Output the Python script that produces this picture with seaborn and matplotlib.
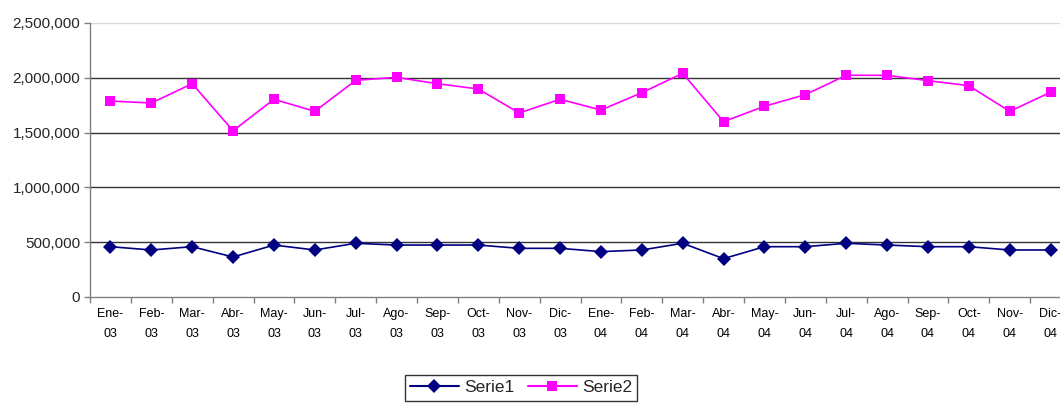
import matplotlib
matplotlib.use("Agg")
import matplotlib.pyplot as plt
import seaborn as sns
import pandas as pd
import numpy as np
from matplotlib.ticker import FuncFormatter, FixedLocator
from matplotlib.lines import Line2D

months = ["Ene-\n03", "Feb-\n03", "Mar-\n03", "Abr-\n03", "May-\n03", "Jun-\n03",
          "Jul-\n03", "Ago-\n03", "Sep-\n03", "Oct-\n03", "Nov-\n03", "Dic-\n03",
          "Ene-\n04", "Feb-\n04", "Mar-\n04", "Abr-\n04", "May-\n04", "Jun-\n04",
          "Jul-\n04", "Ago-\n04", "Sep-\n04", "Oct-\n04", "Nov-\n04", "Dic-\n04"]

serie1 = [459000, 429000, 459000, 365000, 474000, 429000, 490000, 474000,
          474000, 474000, 444000, 444000, 414000, 429000, 490000, 350000,
          459000, 459000, 490000, 474000, 459000, 459000, 429000, 429000]

serie2 = [1788000, 1770000, 1946000, 1517000, 1804000, 1694000, 1977000, 2004000,
          1946000, 1898000, 1679000, 1804000, 1706000, 1864000, 2041000, 1600000,
          1740000, 1846000, 2023000, 2023000, 1974000, 1928000, 1694000, 1868000]

series_names = ["Serie1", "Serie2"]
colors = ["#000080", "#FF00FF"]
markers = ["D", "s"]

sns.set_theme(style="white")
plt.rcParams['font.family'] = ['Liberation Sans', 'DejaVu Sans']

df = pd.DataFrame({
    "pos": list(range(len(months))) * 2,
    "value": serie1 + serie2,
    "serie": ["Serie1"] * len(serie1) + ["Serie2"] * len(serie2),
})

fig = plt.figure(figsize=(10.6, 4.03), dpi=100)
W, H = 1060, 403
ax = fig.add_axes([90 / W, 1 - 297 / H, (1071 - 90) / W, (297 - 23) / H])

sns.lineplot(data=df, x="pos", y="value", hue="serie", style="serie",
             palette=dict(zip(series_names, colors)),
             markers=dict(zip(series_names, markers)), dashes=False,
             markersize=7.5, linewidth=1.2, markeredgewidth=0,
             legend=False, ax=ax, zorder=3)

ax.set_xlim(-0.5, len(months) - 0.5)
ax.set_ylim(0, 2500000)
ax.set_xlabel("")
ax.set_ylabel("")

# gridlines
for yv in [500000, 1000000, 1500000, 2000000]:
    ax.axhline(yv, color="#333333", linewidth=1.0, zorder=1)
ax.axhline(2500000, color="#d8d8d8", linewidth=1.0, zorder=1)

ax.yaxis.set_major_locator(FixedLocator([0, 500000, 1000000, 1500000, 2000000, 2500000]))
ax.yaxis.set_major_formatter(FuncFormatter(lambda v, p: f"{int(v):,}"))

ax.xaxis.set_major_locator(FixedLocator(np.arange(-0.5, len(months), 1.0)))
ax.xaxis.set_major_formatter(FuncFormatter(lambda v, p: ""))
ax.set_xticks(np.arange(len(months)), minor=True)
ax.set_xticklabels(months, minor=True, fontsize=9, linespacing=1.85)

ax.tick_params(axis="x", which="major", direction="out", length=4, width=1,
               color="#808080", bottom=True)
ax.tick_params(axis="x", which="minor", length=0, pad=8, colors="black",
               bottom=True)
ax.tick_params(axis="y", direction="out", length=4, width=1, color="#808080",
               labelsize=11, pad=3, left=True)

for s in ["top", "right"]:
    ax.spines[s].set_visible(False)
for s in ["left", "bottom"]:
    ax.spines[s].set_color("#808080")
    ax.spines[s].set_linewidth(1.0)

handles = [Line2D([0], [0], color=c, marker=m, markersize=7, linewidth=1.5,
                  markeredgewidth=0) for c, m in zip(colors, markers)]
leg = fig.legend(handles, series_names, loc="upper center",
                 bbox_to_anchor=(521 / W, 1 - 375 / H), ncol=2, fontsize=12.5,
                 frameon=True, fancybox=False, edgecolor="black",
                 handlelength=2.8, handletextpad=0.3, columnspacing=0.8,
                 borderpad=0.3, borderaxespad=0)
leg.get_frame().set_linewidth(1.0)

fig.savefig("out.png", dpi=100)
